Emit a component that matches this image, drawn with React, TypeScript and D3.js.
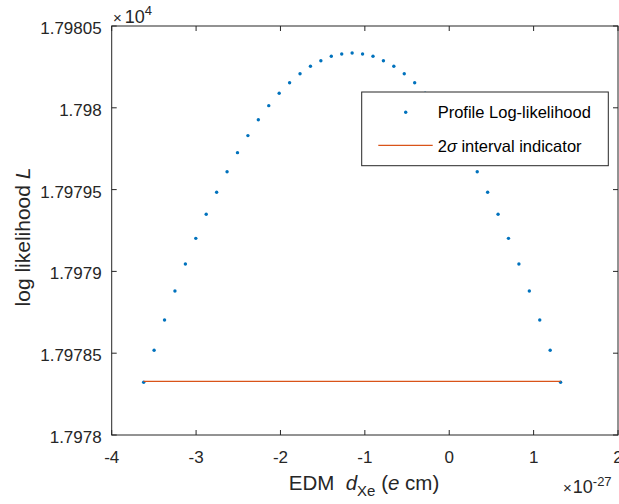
import React from "react";
import * as d3 from "d3";

// EDM values (units of 1e-27 e cm)
const edmValues: number[] = [
  -3.621, -3.4975, -3.374, -3.2504, -3.1269, -3.0034, -2.8799, -2.7564, -2.6328, -2.5093,
  -2.3858, -2.2623, -2.1388, -2.0152, -1.8917, -1.7682, -1.6447, -1.5212, -1.3976, -1.2741,
  -1.1506, -1.0271, -0.9036, -0.78, -0.6565, -0.533, -0.4095, -0.286, -0.1624, -0.0389,
  0.0846, 0.2081, 0.3316, 0.4552, 0.5787, 0.7022, 0.8257, 0.9492, 1.0728, 1.1963, 1.3198,
];

// Profile log-likelihood values
const logLikelihood: number[] = [
  17978.322, 17978.518, 17978.703, 17978.88, 17979.045, 17979.202, 17979.349, 17979.484,
  17979.609, 17979.726, 17979.83, 17979.927, 17980.013, 17980.089, 17980.153, 17980.208,
  17980.254, 17980.288, 17980.315, 17980.329, 17980.335, 17980.329, 17980.315, 17980.288,
  17980.254, 17980.208, 17980.153, 17980.089, 17980.013, 17979.927, 17979.83, 17979.726,
  17979.609, 17979.484, 17979.349, 17979.202, 17979.045, 17978.88, 17978.703, 17978.518,
  17978.322,
];

// 2-sigma interval indicator
const intervalX: number[] = [-3.621, 1.3198];
const intervalY: number[] = [17978.328, 17978.328];

const xTicks: number[] = [-4, -3, -2, -1, 0, 1, 2];
const xTickLabels: string[] = ["-4", "-3", "-2", "-1", "0", "1", "2"];
const yTicks: number[] = [17978, 17978.5, 17979, 17979.5, 17980, 17980.5];
const yTickLabels: string[] = ["1.7978", "1.79785", "1.7979", "1.79795", "1.798", "1.79805"];

const legendLabels: string[] = ["Profile Log-likelihood", "2σ interval indicator"];

const W = 619;
const H = 504;
const LEFT = 111.7;
const RIGHT = 618;
const TOP = 26;
const BOTTOM = 435;
const AX = "#262626";
const BLUE = "#0072BD";
const ORANGE = "#D95319";
const FONT = "'Liberation Sans', Arial, Helvetica, sans-serif";

export default function App() {
  const x = d3.scaleLinear().domain([-4, 2]).range([LEFT, RIGHT]);
  const y = d3.scaleLinear().domain([17978, 17980.5]).range([BOTTOM, TOP]);
  const line = d3
    .line<number>()
    .x((_, i) => x(intervalX[i]))
    .y((_, i) => y(intervalY[i]));
  const tl = 5;

  return (
    <svg
      width={W}
      height={H}
      style={{ position: "absolute", left: 0, top: 0, background: "#fff" }}
      fontFamily={FONT}
    >
      <rect x={0} y={0} width={W} height={H} fill="#fff" />
      {/* data points */}
      {edmValues.map((v, i) => (
        <circle key={i} cx={x(v)} cy={y(logLikelihood[i])} r={1.7} fill={BLUE} />
      ))}
      {/* interval line */}
      <path d={line(intervalX) || ""} stroke={ORANGE} strokeWidth={1.2} fill="none" />

      {/* axes box */}
      <rect
        x={LEFT}
        y={TOP}
        width={RIGHT - LEFT}
        height={BOTTOM - TOP}
        fill="none"
        stroke={AX}
        strokeWidth={1}
      />
      {/* x ticks */}
      {xTicks.map((t, i) => (
        <g key={"xt" + i}>
          <line x1={x(t)} x2={x(t)} y1={BOTTOM} y2={BOTTOM - tl} stroke={AX} />
          <line x1={x(t)} x2={x(t)} y1={TOP} y2={TOP + tl} stroke={AX} />
          <text x={x(t)} y={463} textAnchor="middle" fontSize={17} fill={AX}>
            {xTickLabels[i]}
          </text>
        </g>
      ))}
      {/* y ticks */}
      {yTicks.map((t, i) => (
        <g key={"yt" + i}>
          <line x1={LEFT} x2={LEFT + tl} y1={y(t)} y2={y(t)} stroke={AX} />
          <line x1={RIGHT} x2={RIGHT - tl} y1={y(t)} y2={y(t)} stroke={AX} />
          <text x={LEFT - 10} y={y(t) + 8} textAnchor="end" fontSize={17} fill={AX}>
            {yTickLabels[i]}
          </text>
        </g>
      ))}

      {/* exponent labels */}
      <text x={113} y={22.7} fontSize={18} fill={AX}>
        <tspan fontSize={15}>×</tspan>
        <tspan dx={3}>10</tspan>
        <tspan dy={-8} fontSize={13}>4</tspan>
      </text>
      <text x={563} y={493} fontSize={18} fill={AX}>
        <tspan fontSize={15}>×</tspan>
        <tspan dx={1}>10</tspan>
        <tspan dy={-7} fontSize={13}>-27</tspan>
      </text>

      {/* axis labels */}
      <text x={364} y={490} textAnchor="middle" fontSize={20.5} fill={AX}>
        EDM{"\u00a0\u00a0"}
        <tspan fontStyle="italic">d</tspan>
        <tspan dy={6} fontSize={15}>Xe</tspan>
        <tspan dy={-6}>{"\u00a0("}</tspan>
        <tspan fontStyle="italic">e</tspan>
        <tspan> cm)</tspan>
      </text>
      <text
        transform={`translate(30,237) rotate(-90)`}
        textAnchor="middle"
        fontSize={21}
        fill={AX}
      >
        log likelihood <tspan fontStyle="italic">L</tspan>
      </text>

      {/* legend */}
      <rect x={361.7} y={92} width={246.6} height={73.7} fill="#fff" stroke={AX} strokeWidth={1} />
      <circle cx={405.7} cy={112.3} r={1.7} fill={BLUE} />
      <text x={437.7} y={118.3} fontSize={16.5} fill="#000">
        {legendLabels[0]}
      </text>
      <line x1={378.3} x2={432.7} y1={145.3} y2={145.3} stroke={ORANGE} strokeWidth={1.2} />
      <text x={437.7} y={152.3} fontSize={16.5} fill="#000">
        2<tspan fontStyle="italic">σ</tspan>
        {" interval indicator"}
      </text>
    </svg>
  );
}
